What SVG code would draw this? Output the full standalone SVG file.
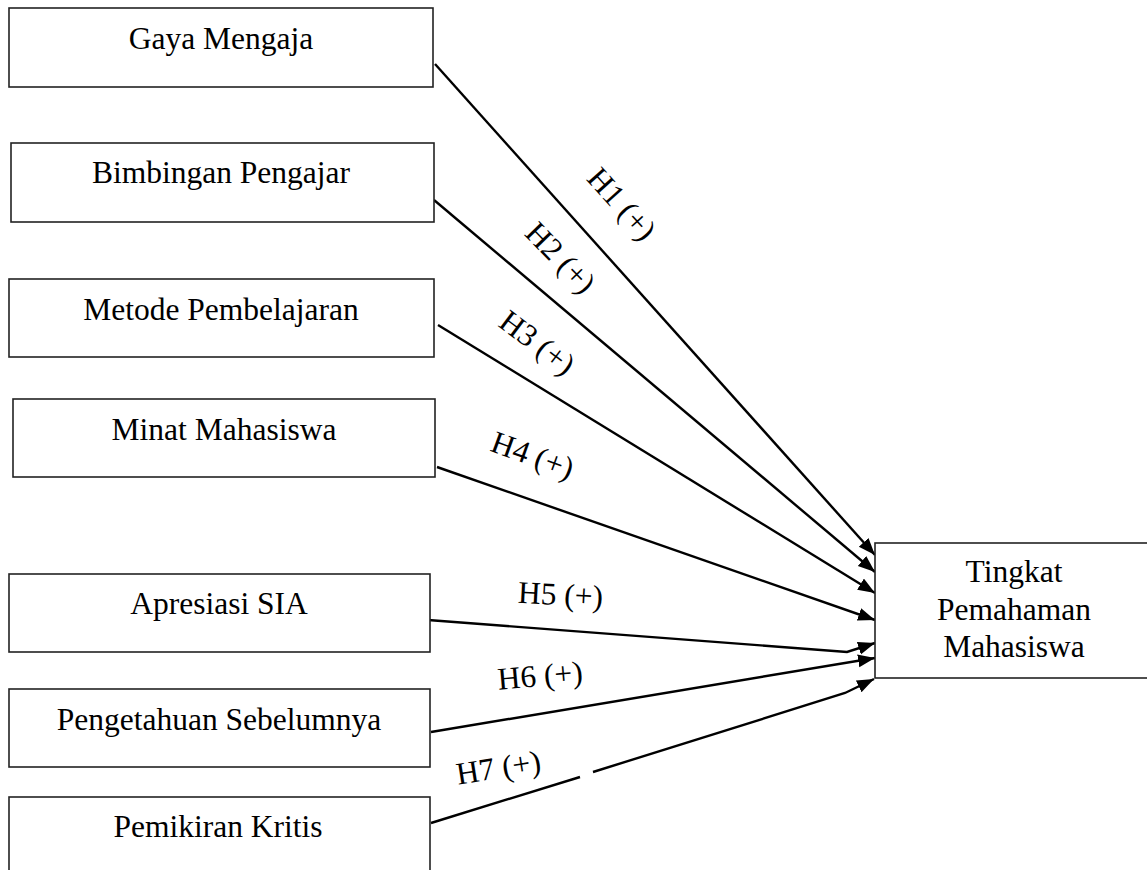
<svg xmlns="http://www.w3.org/2000/svg" width="1147" height="870" viewBox="0 0 1147 870">
<style>
.box{fill:#fff;stroke:#222;stroke-width:1.6}
.t{font-family:"Liberation Serif","Times New Roman",serif;font-size:31.5px;fill:#000;text-anchor:middle}
.c{fill:none;stroke:#000;stroke-width:2.4}
</style>
<defs>
<marker id="ah" markerUnits="userSpaceOnUse" markerWidth="18" markerHeight="14" refX="17" refY="6.5" orient="auto">
<path d="M0,0 L17,6.5 L0,13 z" fill="#000"/>
</marker>
</defs>
<rect width="1147" height="870" fill="#fff"/>
<g id="connectors">
<path class="c" d="M435,64 L875,555" marker-end="url(#ah)"/>
<path class="c" d="M434,200 L875,572" marker-end="url(#ah)"/>
<path class="c" d="M438,325 L875,593" marker-end="url(#ah)"/>
<path class="c" d="M437,467 L875,620" marker-end="url(#ah)"/>
<path class="c" d="M428,620 L847,652 L875,643" marker-end="url(#ah)"/>
<path class="c" d="M431,732 L875,658" marker-end="url(#ah)"/>
<path class="c" d="M431,823 L580,777"/>
<path class="c" d="M593,772 L845,693 L874,679" marker-end="url(#ah)"/>
<text class="t" transform="translate(614,211) rotate(48)">H1 (+)</text>
<text class="t" transform="translate(553,265) rotate(46)">H2 (+)</text>
<text class="t" transform="translate(531,351) rotate(37)">H3 (+)</text>
<text class="t" transform="translate(529,465) rotate(20)">H4 (+)</text>
<text class="t" transform="translate(560,605) rotate(3)">H5 (+)</text>
<text class="t" transform="translate(541,686) rotate(-5)">H6 (+)</text>
<text class="t" transform="translate(500,778) rotate(-9)">H7 (+)</text>
</g>
<g id="n1"><rect class="box" x="9" y="8" width="424" height="79"/><text class="t" x="221" y="49">Gaya Mengaja</text></g>
<g id="n2"><rect class="box" x="11" y="143" width="423" height="79"/><text class="t" x="221" y="183">Bimbingan Pengajar</text></g>
<g id="n3"><rect class="box" x="9" y="279" width="425" height="78"/><text class="t" x="221" y="320">Metode Pembelajaran</text></g>
<g id="n4"><rect class="box" x="13" y="399" width="422" height="78"/><text class="t" x="224" y="440">Minat Mahasiswa</text></g>
<g id="n5"><rect class="box" x="9" y="574" width="421" height="78"/><text class="t" x="219" y="614">Apresiasi SIA</text></g>
<g id="n6"><rect class="box" x="9" y="689" width="421" height="78"/><text class="t" x="219" y="730">Pengetahuan Sebelumnya</text></g>
<g id="n7"><rect class="box" x="9" y="797" width="421" height="90"/><text class="t" x="218" y="837">Pemikiran Kritis</text></g>
<g id="n8"><rect class="box" x="875" y="543" width="280" height="135"/>
<text class="t" x="1014" y="582">Tingkat</text>
<text class="t" x="1014" y="620">Pemahaman</text>
<text class="t" x="1014" y="657">Mahasiswa</text></g>
</svg>
